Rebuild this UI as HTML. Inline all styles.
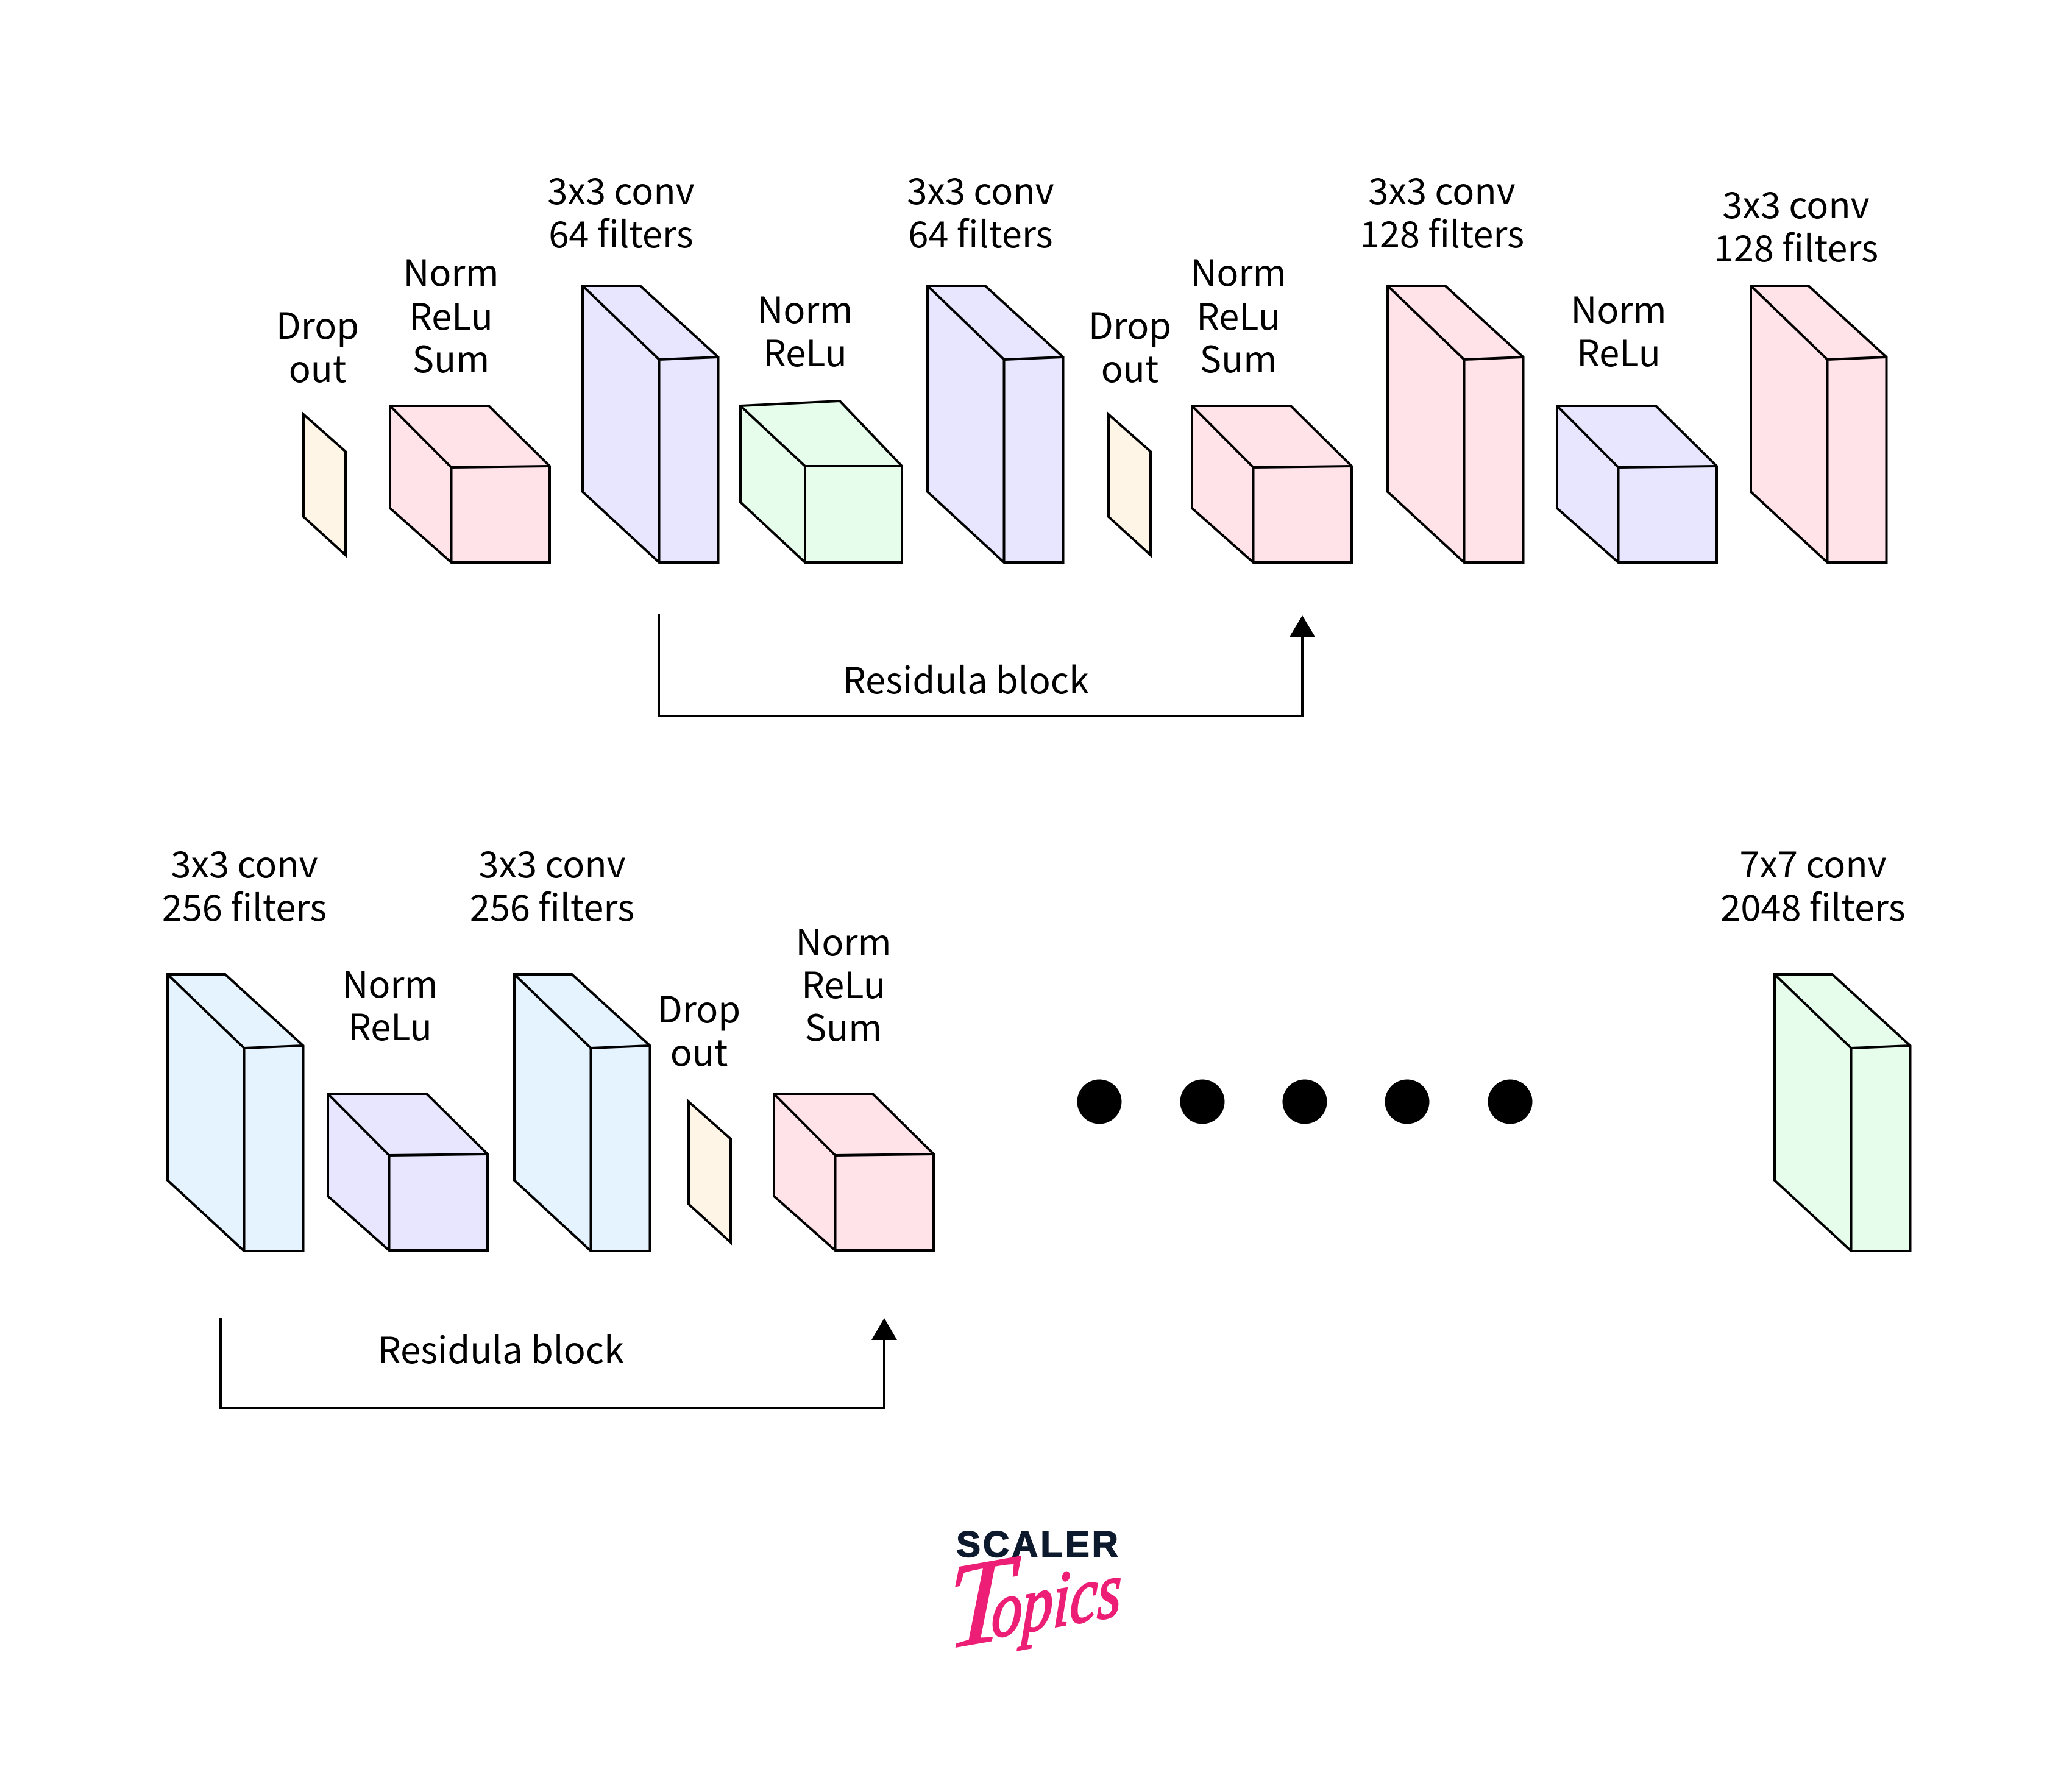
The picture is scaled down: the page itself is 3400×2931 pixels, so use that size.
<!DOCTYPE html>
<html>
<head>
<meta charset="utf-8">
<style>
html,body{margin:0;padding:0;background:#fff;width:3400px;height:2931px;overflow:hidden}
svg{display:block}
.c{stroke:#000;stroke-width:4;stroke-linejoin:miter}
.t text{font-family:"Noto Sans CJK JP","Liberation Sans",sans-serif;font-size:59.500px;text-anchor:middle;fill:#000}
</style>
</head>
<body>
<svg width="3400" height="2931" viewBox="0 0 3400 2931" xmlns="http://www.w3.org/2000/svg">
<rect width="3400" height="2931" fill="#fff"/>
<defs>
<g id="tall" class="c"><path d="M0 0H94.500L222.500 117V454H125.500L0 338Z"/><path fill="none" d="M0 0L125.500 121L222.500 117M125.500 121V454"/></g>
<g id="box" class="c"><path d="M0 0H162L262 99V257H100.500L0 168Z"/><path fill="none" d="M0 0L100.500 101L262 99M100.500 101V257"/></g>
<g id="boxg" class="c"><path d="M0 0L163 -8L265 99V257H106L0 158Z"/><path fill="none" d="M0 0L106 99H265M106 99V257"/></g>
<g id="drop" class="c"><path d="M0 0L69 61V231L0 168Z"/></g>
</defs>

<!-- Row 1 -->
<use href="#drop" x="498" y="680" fill="#FFF5E6"/>
<use href="#box" x="640" y="666" fill="#FFE3E9"/>
<use href="#tall" x="956" y="469" fill="#E8E6FE"/>
<use href="#boxg" x="1215" y="666" fill="#E6FDEC"/>
<use href="#tall" x="1522" y="469" fill="#E8E6FE"/>
<use href="#drop" x="1819" y="680" fill="#FFF5E6"/>
<use href="#box" x="1956" y="666" fill="#FFE3E9"/>
<use href="#tall" x="2277" y="469" fill="#FFE3E9"/>
<use href="#box" x="2555" y="666" fill="#E8E6FE"/>
<use href="#tall" x="2873" y="469" fill="#FFE3E9"/>

<!-- Row 2 -->
<use href="#tall" x="275" y="1599" fill="#E4F3FE"/>
<use href="#box" x="538" y="1795" fill="#E8E6FE"/>
<use href="#tall" x="844" y="1599" fill="#E4F3FE"/>
<use href="#drop" x="1130" y="1808" fill="#FFF5E6"/>
<use href="#box" x="1270" y="1795" fill="#FFE3E9"/>
<use href="#tall" x="2912" y="1599" fill="#E6FDEC"/>

<!-- Residual connectors -->
<path d="M1081 1008V1175H2137V1040" fill="none" stroke="#000" stroke-width="4"/>
<path d="M2137 1010L2158 1045H2116Z" fill="#000"/>
<path d="M362 2163V2311H1451V2195" fill="none" stroke="#000" stroke-width="4"/>
<path d="M1451 2163L1472 2199H1430Z" fill="#000"/>

<!-- Dots -->
<g fill="#000">
<circle cx="1804" cy="1808" r="36.500"/>
<circle cx="1973" cy="1808" r="36.500"/>
<circle cx="2141" cy="1808" r="36.500"/>
<circle cx="2309" cy="1808" r="36.500"/>
<circle cx="2478" cy="1808" r="36.500"/>
</g>

<!-- Labels -->
<g class="t">
<text x="521" y="556">Drop</text><text x="521" y="627">out</text>
<text x="740" y="469">Norm</text><text x="740" y="541">ReLu</text><text x="740" y="611">Sum</text>
<text x="1019" y="335">3x3 conv</text><text x="1019" y="406">64 filters</text>
<text x="1321" y="530">Norm</text><text x="1321" y="601">ReLu</text>
<text x="1609" y="335">3x3 conv</text><text x="1609" y="406">64 filters</text>
<text x="1854" y="556">Drop</text><text x="1854" y="627">out</text>
<text x="2032" y="469">Norm</text><text x="2032" y="541">ReLu</text><text x="2032" y="611">Sum</text>
<text x="2366" y="335">3x3 conv</text><text x="2366" y="406">128 filters</text>
<text x="2656" y="530">Norm</text><text x="2656" y="601">ReLu</text>
<text x="2947" y="358">3x3 conv</text><text x="2947" y="429">128 filters</text>
<text x="1585" y="1138">Residula block</text>

<text x="401" y="1440">3x3 conv</text><text x="401" y="1511">256 filters</text>
<text x="640" y="1637">Norm</text><text x="640" y="1707">ReLu</text>
<text x="906" y="1440">3x3 conv</text><text x="906" y="1511">256 filters</text>
<text x="1147" y="1678">Drop</text><text x="1147" y="1749">out</text>
<text x="1384" y="1568">Norm</text><text x="1384" y="1638">ReLu</text><text x="1384" y="1708">Sum</text>
<text x="2975" y="1440">7x7 conv</text><text x="2975" y="1511">2048 filters</text>
<text x="822" y="2237">Residula block</text>
</g>

<!-- Logo -->
<text x="1569" y="2555" font-family="'Liberation Sans',sans-serif" font-weight="700" font-size="60" fill="#0D1A2D" stroke="#0D1A2D" stroke-width="1.500" textLength="266" lengthAdjust="spacing">SCALER</text>
<g fill="#EC1E75" stroke="#EC1E75" font-family="'Liberation Serif',serif" font-style="italic">
<text transform="translate(1552 2706) rotate(-10) skewX(-12)" font-size="196" stroke-width="1.500">T</text>
<text transform="translate(1626 2688) rotate(-10) skewX(-12)" font-size="128" stroke-width="3" textLength="216" lengthAdjust="spacingAndGlyphs">opics</text>
</g>
</svg>
</body>
</html>
